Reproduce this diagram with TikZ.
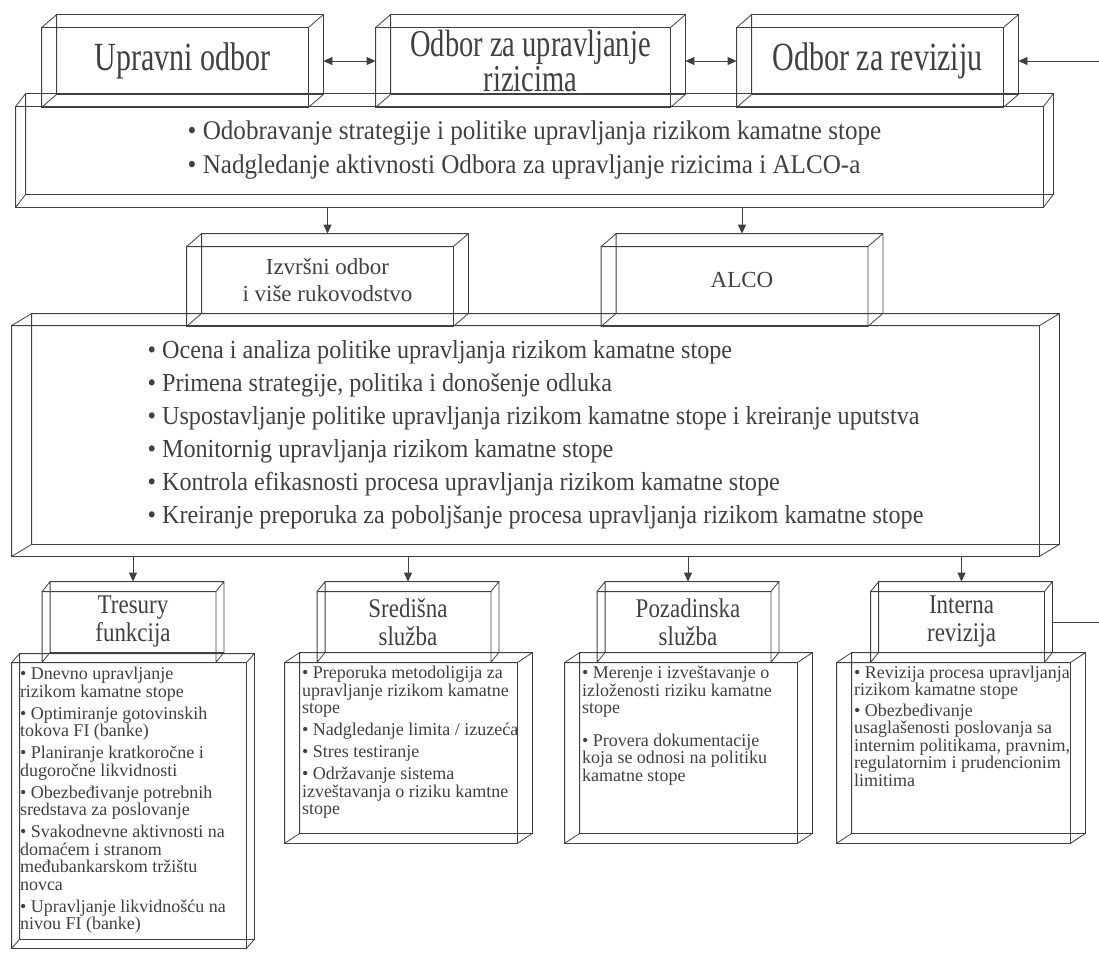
\documentclass[tikz,border=0pt]{standalone}
\usepackage{fontspec}
\setmainfont{Liberation Serif}
\newfontfamily\narrowfont[FakeStretch=0.75]{Liberation Serif}
\newfontfamily\headfont[FakeStretch=0.85]{Liberation Serif}
\newfontfamily\tallfont[FakeStretch=0.93]{Liberation Serif}
\usetikzlibrary{arrows.meta}

\begin{document}
\begin{tikzpicture}[x=1pt, y=-1pt, line width=0.8pt, color=black!75,
  box/.style={inner sep=0pt, align=center},
  title/.style={box, minimum width=281pt, minimum height=92pt, font=\narrowfont\fontsize{40}{32}\selectfont},
  mid/.style={box, minimum width=281pt, minimum height=92pt, font=\fontsize{23}{27}\selectfont},
  head/.style={box, minimum width=181pt, minimum height=80pt, font=\headfont\fontsize{27}{28}\selectfont},
  list/.style={inner sep=0pt, align=left, anchor=north west, font=\fontsize{18}{17.5}\selectfont},
  >={Triangle[length=9pt, width=8pt]}]
\useasboundingbox (0,0) rectangle (1099,955);

% top row
\node[title] (uo) at (182.5,61) {Upravni odbor};
\node[title, minimum width=309pt, font=\narrowfont\fontsize{38}{32}\selectfont] (our) at (530.5,61) {Odbor za upravljanje\\rizicima};
\node[title] (orev) at (877.5,61) {Odbor za reviziju};
\node[box, minimum width=1037pt, minimum height=113pt, font=\tallfont\fontsize{27}{34}\selectfont, align=left] (pol) at (534.5,150.5)
  {• Odobravanje strategije i politike upravljanja rizikom kamatne stope\\
   • Nadgledanje aktivnosti Odbora za upravljanje rizicima i ALCO-a};

% middle row
\node[mid] (izv) at (327.5,280) {Izvršni odbor\\i više rukovodstvo};
\node[mid] (alco) at (742,280) {ALCO};
\node[box, minimum width=1047pt, minimum height=242pt, font=\tallfont\fontsize{26}{33}\selectfont, align=left] (task) at (535.5,435)
  {• Ocena i analiza politike upravljanja rizikom kamatne stope\\
   • Primena strategije, politika i donošenje odluka\\
   • Uspostavljanje politike upravljanja rizikom kamatne stope i kreiranje uputstva\\
   • Monitornig upravljanja rizikom kamatne stope\\
   • Kontrola efikasnosti procesa upravljanja rizikom kamatne stope\\
   • Kreiranje preporuka za poboljšanje procesa upravljanja rizikom kamatne stope};

% bottom row
\node[head] (trh) at (133,622) {Tresury\\funkcija};
\node[head] (ssh) at (408,622) {Središna\\služba};
\node[head] (psh) at (688,622) {Pozadinska\\služba};
\node[head] (irh) at (961.5,622) {Interna\\revizija};
\node[box, minimum width=242pt, minimum height=294pt] (trb) at (133,801) {};
\node[box, minimum width=247pt, minimum height=190pt] (ssb) at (408.5,748) {};
\node[box, minimum width=247pt, minimum height=190pt] (psb) at (688.5,748) {};
\node[box, minimum width=248pt, minimum height=190pt] (irb) at (961,748) {};

\node[list] (trt) at ([shift={(8,13)}]trb.north west)
  {• Dnevno upravljanje\\rizikom kamatne stope\\[4.5pt]
   • Optimiranje gotovinskih\\tokova FI (banke)\\[4.5pt]
   • Planiranje kratkoročne i\\dugoročne likvidnosti\\[4.5pt]
   • Obezbeđivanje potrebnih\\sredstava za poslovanje\\[4.5pt]
   • Svakodnevne aktivnosti na\\domaćem i stranom\\međubankarskom tržištu\\novca\\[4.5pt]
   • Upravljanje likvidnošću na\\nivou FI (banke)};
\node[list] (sst) at ([shift={(17,13)}]ssb.north west)
  {• Preporuka metodoligija za\\upravljanje rizikom kamatne\\stope\\[4.5pt]
   • Nadgledanje limita / izuzeća\\[4.5pt]
   • Stres testiranje\\[4.5pt]
   • Održavanje sistema\\izveštavanja o riziku kamtne\\stope};
\node[list] (pst) at ([shift={(17,13)}]psb.north west)
  {• Merenje i izveštavanje o\\izloženosti riziku kamatne\\stope\\[15pt]
   • Provera dokumentacije\\koja se odnosi na politiku\\kamatne stope};
\node[list] (irt) at ([shift={(17,13)}]irb.north west)
  {• Revizija procesa upravljanja\\rizikom kamatne stope\\[3pt]
   • Obezbeđivanje\\usaglašenosti poslovanja sa\\internim politikama, pravnim,\\regulatornim i prudencionim\\limitima};

% wire frames: front face, back face and the four depth edges
\foreach \n/\dpx/\dpy in {uo/15/13, our/15/13, orev/15/13, pol/10/13, izv/15/13, alco/15/13, task/20/12,
    trh/8/10, ssh/8/10, psh/8/10, irh/8/10, trb/8/9, ssb/15/10, psb/15/10, irb/15/10}
  \draw (\n.south west) rectangle ([shift={(-\dpx,\dpy)}]\n.north east)
        ([shift={(\dpx,-\dpy)}]\n.south west) rectangle (\n.north east)
        (\n.south west) -- ++(\dpx,-\dpy)
        ([shift={(0,\dpy)}]\n.north west) -- ++(\dpx,-\dpy)
        ([shift={(-\dpx,0)}]\n.south east) -- ++(\dpx,-\dpy)
        ([shift={(-\dpx,\dpy)}]\n.north east) -- ++(\dpx,-\dpy);

% connectors
\draw[<->] (uo) -- (our);
\draw[<->] (our) -- (orev);
\draw[->] (irh.east) -- ++(70,0) |- (orev.east);
\draw[->] (pol.south -| izv.north) -- (izv.north);
\draw[->] (pol.south -| alco.north) -- (alco.north);
\foreach \n in {trh, ssh, psh, irh}
  \draw[->] (task.south -| \n.north) -- (\n.north);
\end{tikzpicture}
\end{document}
